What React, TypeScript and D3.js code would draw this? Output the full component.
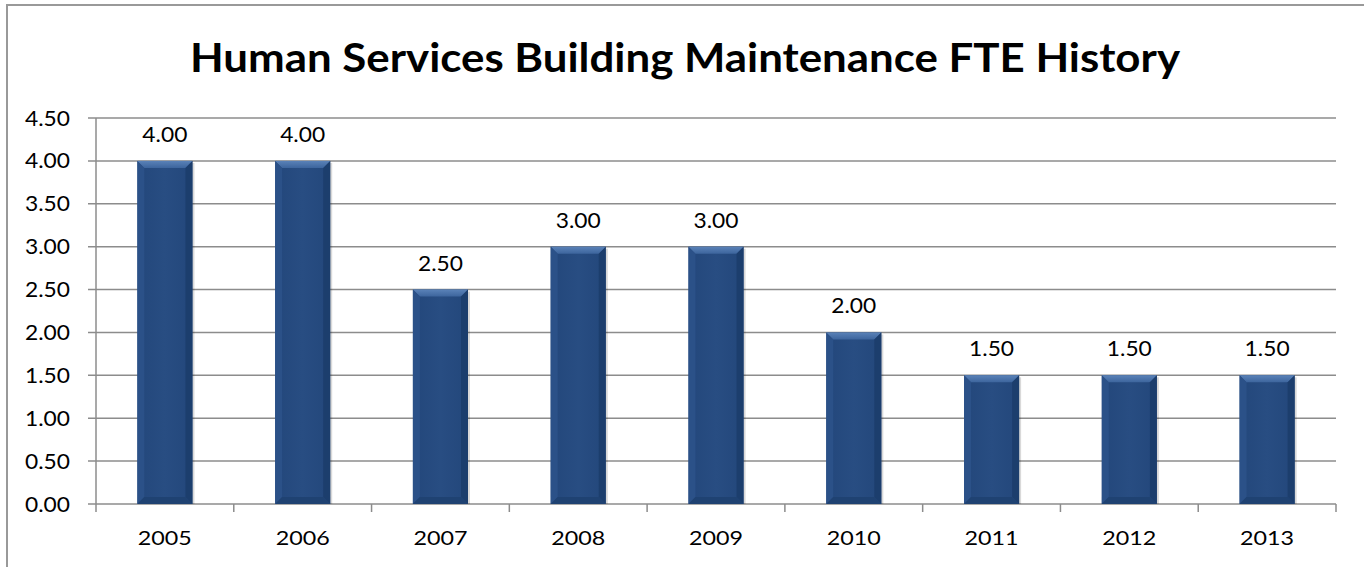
import React from "react";
import * as d3 from "d3";

const categories = ["2005", "2006", "2007", "2008", "2009", "2010", "2011", "2012", "2013"];
const values = [4.0, 4.0, 2.5, 3.0, 3.0, 2.0, 1.5, 1.5, 1.5];
const yTicks = [0, 0.5, 1, 1.5, 2, 2.5, 3, 3.5, 4, 4.5];
const title = "Human Services Building Maintenance FTE History";

const W = 1364;
const H = 567;
const left = 96;
const right = 1336;
const top = 118;
const bottom = 504;
const FONT = "Lato, 'Open Sans', sans-serif";

export default function App() {
  const x = d3.scaleBand<string>().domain(categories).range([left, right]).paddingInner(0.6).paddingOuter(0.3);
  const band = d3.scaleBand<string>().domain(categories).range([left, right]);
  const y = d3.scaleLinear().domain([0, 4.5]).range([bottom, top]);
  const bw = x.bandwidth();
  const bev = 7;
  const grid = "#8c8c8c";

  return (
    <svg width={W} height={H} style={{ position: "absolute", left: 0, top: 0, background: "#fff" }}>
      <defs>
        <linearGradient id="topBev" x1="0" y1="0" x2="0" y2="1">
          <stop offset="0" stopColor="#5a82b8" />
          <stop offset="1" stopColor="#3d659d" />
        </linearGradient>
        <linearGradient id="body" x1="0" y1="0" x2="1" y2="0">
          <stop offset="0" stopColor="#23477b" />
          <stop offset="0.5" stopColor="#284d82" />
          <stop offset="1" stopColor="#23477b" />
        </linearGradient>
      </defs>
      <rect x={7} y={5} width={W + 10} height={H + 10} fill="#fff" stroke="#999" strokeWidth={2} />
      <text x={685} y={72} textAnchor="middle" fontFamily={FONT} fontWeight={700} fontSize={40} textLength={990} lengthAdjust="spacingAndGlyphs" fill="#000">
        {title}
      </text>
      {yTicks.map((t) => (
        <g key={t}>
          <line x1={88} x2={right} y1={y(t)} y2={y(t)} stroke={grid} strokeWidth={1.5} />
          <text x={70} y={y(t)} dy="0.36em" textAnchor="end" fontFamily={FONT} fontSize={21} textLength={45} lengthAdjust="spacingAndGlyphs" fill="#000">
            {t.toFixed(2)}
          </text>
        </g>
      ))}
      <line x1={left} x2={left} y1={top} y2={bottom + 8} stroke={grid} strokeWidth={1.5} />
      {categories.map((c) => (
        <line key={"tk" + c} x1={(band(c) as number) + band.bandwidth()} x2={(band(c) as number) + band.bandwidth()} y1={bottom} y2={bottom + 8} stroke={grid} strokeWidth={1.5} />
      ))}
      {categories.map((c, i) => {
        const x0 = x(c) as number;
        const x1 = x0 + bw;
        const y0 = y(values[i]);
        const y1 = y(0);
        return (
          <g key={c}>
            <rect x={x0 + 2} y={y0 + 2} width={bw} height={y1 - y0 - 2} fill="#000" opacity={0.15} />
            <rect x={x0} y={y0} width={bw} height={y1 - y0} fill="url(#body)" />
            <polygon points={`${x0},${y0} ${x1},${y0} ${x1 - bev},${y0 + bev} ${x0 + bev},${y0 + bev}`} fill="url(#topBev)" />
            <polygon points={`${x0},${y0} ${x0 + bev},${y0 + bev} ${x0 + bev},${y1 - bev} ${x0},${y1}`} fill="#2c528a" opacity={0.9} />
            <polygon points={`${x1},${y0} ${x1 - bev},${y0 + bev} ${x1 - bev},${y1 - bev} ${x1},${y1}`} fill="#1c3d6c" opacity={0.9} />
            <polygon points={`${x0},${y1} ${x0 + bev},${y1 - bev} ${x1 - bev},${y1 - bev} ${x1},${y1}`} fill="#1f4272" />
            <text x={x0 + bw / 2} y={y0 - 19} textAnchor="middle" fontFamily={FONT} fontSize={21} textLength={45} lengthAdjust="spacingAndGlyphs" fill="#000">
              {values[i].toFixed(2)}
            </text>
            <text x={x0 + bw / 2} y={545} textAnchor="middle" fontFamily={FONT} fontSize={20} textLength={54} lengthAdjust="spacingAndGlyphs" fill="#000">
              {c}
            </text>
          </g>
        );
      })}
    </svg>
  );
}
